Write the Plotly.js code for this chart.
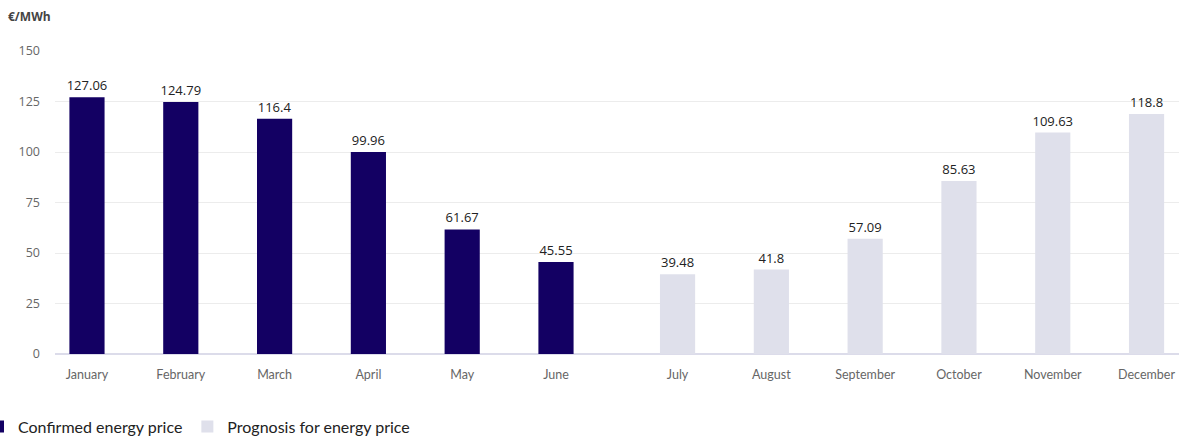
<!DOCTYPE html>
<html>
<head>
<meta charset="utf-8">
<script src="https://cdn.plot.ly/plotly-3.0.1.min.js"></script>
<style>html,body{margin:0;padding:0;background:#fff;}#chart{width:1185px;height:438px;}</style>
</head>
<body>
<div id="chart"></div>
<script>
const confirmedMonths = ["January", "February", "March", "April", "May", "June"];
const confirmedValues = [127.06, 124.79, 116.4, 99.96, 61.67, 45.55];
const prognosisMonths = ["July", "August", "September", "October", "November", "December"];
const prognosisValues = [39.48, 41.8, 57.09, 85.63, 109.63, 118.8];
const yTicks = [0, 25, 50, 75, 100, 125, 150];
const unitLabel = "€/MWh";
const seriesNames = ["Confirmed energy price", "Prognosis for energy price"];

const navy = "#130063";
const lavender = "#dfe0eb";
const fontFam = "'Open Sans', 'Noto Sans', sans-serif";

const traces = [
  {
    type: "bar", name: seriesNames[0],
    x: confirmedMonths, y: confirmedValues,
    xaxis: "x", yaxis: "y",
    marker: {color: navy},
    width: 0.375,
    text: confirmedValues.map(String), textposition: "outside",
    constraintext: "none",
    textfont: {family: fontFam, size: 13, color: "#222"},
    cliponaxis: false, hoverinfo: "x+y"
  },
  {
    type: "bar", name: seriesNames[1],
    x: prognosisMonths, y: prognosisValues,
    xaxis: "x2", yaxis: "y",
    marker: {color: lavender},
    width: 0.375,
    text: prognosisValues.map(String), textposition: "outside",
    constraintext: "none",
    textfont: {family: fontFam, size: 13, color: "#222"},
    cliponaxis: false, hoverinfo: "x+y"
  }
];

const xCommon = {
  type: "category",
  showgrid: false, zeroline: false,
  showline: false, ticks: "",
  tickfont: {family: "Lato, 'Open Sans', sans-serif", size: 12.5, color: "#666"},
  ticklabelstandoff: 11,
  fixedrange: true
};

const layout = {
  width: 1185, height: 438,
  margin: {l: 55, r: 6, t: 51, b: 84, autoexpand: false},
  paper_bgcolor: "#fff", plot_bgcolor: "#fff",
  showlegend: true,
  title: {
    text: "<b>" + unitLabel + "</b>",
    x: 8 / 1185, xanchor: "left", xref: "container",
    y: 1 - 17 / 438, yanchor: "middle", yref: "container",
    font: {family: fontFam, size: 12, color: "#444"}
  },
  xaxis: Object.assign({}, xCommon, {domain: [0, 0.4998], range: [-0.341, 5.648]}),
  xaxis2: Object.assign({}, xCommon, {domain: [0.4998, 1], range: [-0.648, 5.346], anchor: "y"}),
  yaxis: {
    range: [0, 150],
    tickvals: yTicks,
    ticktext: yTicks.map(String),
    showgrid: true, gridcolor: "#ececec", gridwidth: 1,
    zeroline: true, zerolinecolor: "#dcdcea", zerolinewidth: 2,
    showline: false, ticks: "",
    tickfont: {family: fontFam, size: 12.5, color: "#666"},
    ticklabelstandoff: 14,
    fixedrange: true
  },
  legend: {
    orientation: "h",
    x: -0.0685, xanchor: "left",
    y: -0.24, yanchor: "middle",
    font: {family: "Lato, 'Open Sans', sans-serif", size: 16, color: "#222"},
    bgcolor: "rgba(0,0,0,0)"
  }
};

Plotly.newPlot("chart", traces, layout, {displayModeBar: false, staticPlot: true});
</script>
</body>
</html>
